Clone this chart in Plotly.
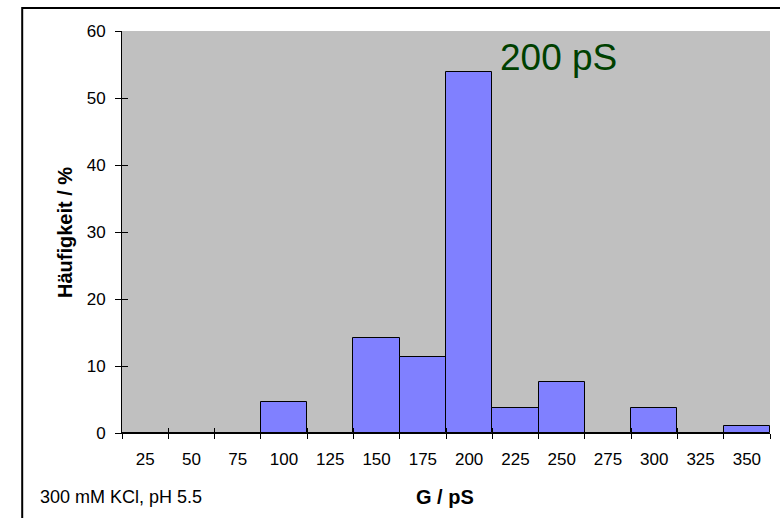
import plotly.graph_objects as go

# leitfaehigkeit classes (pS) and frequency (%)
g_classes = ['25', '50', '75', '100', '125', '150', '175', '200', '225', '250', '275', '300', '325', '350']
haeufigkeit = [0, 0, 0, 4.7, 0, 14.2, 11.3, 53.9, 3.7, 7.6, 0, 3.7, 0, 1.1]

fig = go.Figure()
fig.add_trace(go.Bar(
    x=g_classes, y=haeufigkeit,
    marker={'color': '#8080FF', 'line': {'color': 'black', 'width': 1}},
    width=1.0, showlegend=False, hoverinfo='x+y'))
# invisible helper trace so the second axes pair exists (inside half of the cross ticks)
fig.add_trace(go.Scatter(x=g_classes, y=haeufigkeit, xaxis='x2', yaxis='y2',
                         mode='markers', marker={'opacity': 0}, showlegend=False, hoverinfo='skip'))

font = 'Arial, Liberation Sans, sans-serif'

fig.update_layout(
    width=780, height=518,
    margin={'l': 122, 'r': 10, 't': 31, 'b': 85},
    paper_bgcolor='white', plot_bgcolor='#C0C0C0',
    bargap=0,
    font={'family': font, 'size': 17, 'color': 'black'},
    xaxis={'type': 'category', 'tickson': 'boundaries', 'ticks': 'outside', 'ticklen': 5,
           'tickcolor': 'black', 'showline': True, 'linecolor': 'black', 'linewidth': 1,
           'showgrid': False, 'ticklabelstandoff': 11, 'range': [-0.5, 13.5]},
    yaxis={'range': [0, 60], 'dtick': 10, 'ticks': 'outside', 'ticklen': 6, 'tickcolor': 'black',
           'showline': True, 'linecolor': 'black', 'linewidth': 1, 'showgrid': False,
           'zeroline': False, 'ticklabelstandoff': 6},
    xaxis2={'type': 'category', 'overlaying': 'x', 'tickson': 'boundaries', 'ticks': 'inside',
            'ticklen': 5, 'tickcolor': 'black', 'showticklabels': False, 'showgrid': False,
            'range': [-0.5, 13.5], 'anchor': 'y2', 'side': 'bottom'},
    yaxis2={'overlaying': 'y', 'range': [0, 60], 'dtick': 10, 'ticks': 'inside', 'ticklen': 6,
            'tickcolor': 'black', 'showticklabels': False, 'showgrid': False, 'zeroline': False,
            'anchor': 'x2', 'side': 'left'},
)

fig.update_layout({'annotations': [
    {'text': '200 pS', 'x': 0.674, 'y': 0.935, 'xref': 'paper', 'yref': 'paper',
     'xanchor': 'center', 'yanchor': 'middle',
     'showarrow': False, 'font': {'size': 37, 'color': '#004000'}},
    {'text': '<b>Häufigkeit / %</b>', 'x': -0.088, 'y': 0.5, 'xref': 'paper', 'yref': 'paper',
     'xanchor': 'center', 'yanchor': 'middle', 'textangle': -90,
     'showarrow': False, 'font': {'size': 20}},
    {'text': '<b>G / pS</b>', 'x': 0.499, 'y': -0.16, 'xref': 'paper', 'yref': 'paper',
     'xanchor': 'center', 'yanchor': 'middle', 'showarrow': False, 'font': {'size': 20}},
    {'text': '300 mM KCl, pH 5.5', 'x': -0.130, 'y': -0.16, 'xref': 'paper', 'yref': 'paper',
     'xanchor': 'left', 'yanchor': 'middle', 'showarrow': False, 'font': {'size': 18}},
]})

# outer frame of the chart area
fig.add_shape(type='rect', xref='paper', yref='paper', x0=-0.154, y0=-0.3, x1=1.05, y1=1.057,
              line={'color': 'black', 'width': 2}, layer='below')

fig.write_html("out.html", config={'displayModeBar': False},
               post_script="document.body.style.margin='0';")
